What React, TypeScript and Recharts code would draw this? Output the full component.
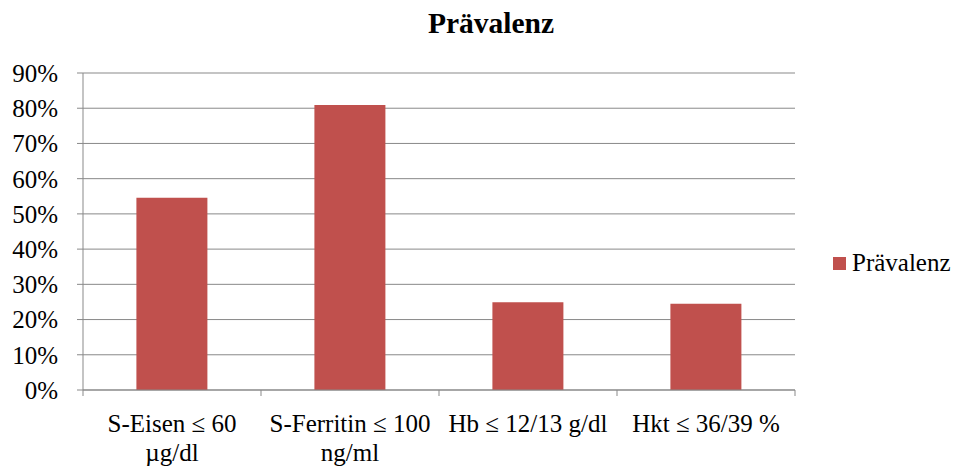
import React from "react";
import { BarChart, Bar, XAxis, YAxis, CartesianGrid, Legend } from "recharts";

const categories = [
  "S-Eisen ≤ 60\nµg/dl",
  "S-Ferritin ≤ 100\nng/ml",
  "Hb ≤ 12/13 g/dl",
  "Hkt ≤ 36/39 %",
];
const praevalenz = [54.6, 80.9, 24.9, 24.5];
const yTicks = [0, 10, 20, 30, 40, 50, 60, 70, 80, 90];
const seriesName = "Prävalenz";
const title = "Prävalenz";

const data = categories.map((c, i) => ({ name: c, value: praevalenz[i] }));

const W = 960;
const H = 469;
const XH = 79;
const M = { top: 73, right: 165, bottom: 0, left: 0 };
const YW = 83;
const PLOT_LEFT = M.left + YW;
const PLOT_RIGHT = W - M.right;
const PLOT_BOTTOM = H - M.bottom - XH;
const HALF_BAND = (PLOT_RIGHT - PLOT_LEFT) / categories.length / 2;
const FONT = "'Liberation Serif', 'Times New Roman', serif";
const GRAY = "#898989";
const RED = "#C0504D";

const XTick = (props: any) => {
  const { x, payload, index } = props;
  const lines = String(payload.value).split("\n");
  return (
    <g>
      <line x1={x - HALF_BAND} x2={x - HALF_BAND} y1={PLOT_BOTTOM} y2={PLOT_BOTTOM + 6} stroke={GRAY} strokeWidth={1} />
      {index === categories.length - 1 && (
        <line x1={x + HALF_BAND} x2={x + HALF_BAND} y1={PLOT_BOTTOM} y2={PLOT_BOTTOM + 6} stroke={GRAY} strokeWidth={1} />
      )}
      {lines.map((l, i) => (
        <text key={i} x={x} y={PLOT_BOTTOM + 42 + i * 28.5} textAnchor="middle" fontFamily={FONT} fontSize={25} fill="#000">
          {l}
        </text>
      ))}
    </g>
  );
};

const LegendContent = () => (
  <div style={{ display: "flex", alignItems: "center", fontFamily: FONT, fontSize: 25, color: "#000", whiteSpace: "nowrap" }}>
    <span style={{ display: "inline-block", width: 13, height: 13, background: RED, marginRight: 6 }} />
    <span>{seriesName}</span>
  </div>
);

export default function App() {
  return (
    <div style={{ position: "absolute", left: 0, top: 0, width: W, height: H, background: "#fff" }}>
      <BarChart width={W} height={H} data={data} margin={M} barCategoryGap="30%">
        <CartesianGrid vertical={false} stroke={GRAY} strokeWidth={1} />
        <XAxis
          dataKey="name"
          axisLine={{ stroke: GRAY }}
          tickLine={false}
          tick={<XTick />}
          interval={0}
          height={XH}
        />
        <YAxis
          width={YW}
          domain={[0, 90]}
          ticks={yTicks}
          interval={0}
          tickFormatter={(v: number) => `${v}%`}
          axisLine={{ stroke: GRAY }}
          tickLine={{ stroke: GRAY }}
          tickSize={6}
          tickMargin={19}
          tick={{ fill: "#000", fontSize: 25, fontFamily: FONT }}
        />
        <Legend
          layout="horizontal"
          verticalAlign="middle"
          align="center"
          content={<LegendContent />}
          wrapperStyle={{ position: "absolute", left: 833, top: 249, width: "auto", height: "auto" }}
        />
        <Bar dataKey="value" name={seriesName} fill={RED} isAnimationActive={false} />
      </BarChart>
      <svg width={W} height={H} style={{ position: "absolute", left: 0, top: 0, pointerEvents: "none" }}>
        <text x={491} y={33} textAnchor="middle" fontFamily={FONT} fontWeight="bold" fontSize={29.5} fill="#000">
          {title}
        </text>
      </svg>
    </div>
  );
}
